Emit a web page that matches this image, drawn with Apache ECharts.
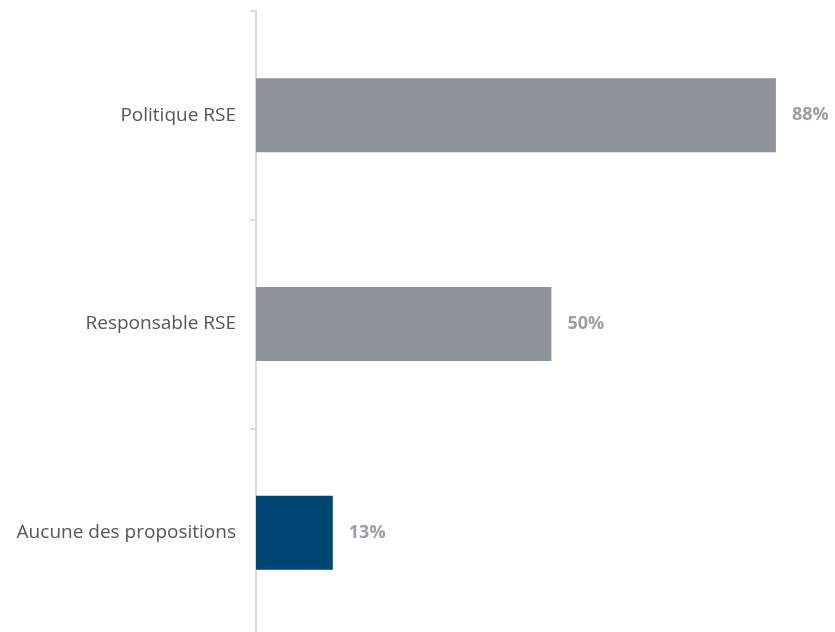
<!DOCTYPE html>
<html><head><meta charset="utf-8">
<script src="https://cdn.jsdelivr.net/npm/echarts@6/dist/echarts.min.js"></script>
<style>html,body{margin:0;padding:0;background:#fff;overflow:hidden}#c{width:835px;height:637px}</style>
</head><body><div id="c"></div>
<script>
var categories = ["Politique RSE", "Responsable RSE", "Aucune des propositions"];
var values = [88, 50, 13];
var barColors = ["#8e9299", "#8e9299", "#004673"];

var chart = echarts.init(document.getElementById('c'));
chart.setOption({
  animation: false,
  grid: {left: 256, top: 11, right: 0, bottom: 0, containLabel: false},
  xAxis: {type: 'value', min: 0, max: 98, show: false},
  yAxis: {
    type: 'category', data: categories, inverse: true,
    axisLine: {show: true, lineStyle: {color: '#dcdcdc', width: 2}},
    axisTick: {show: true, length: 6, lineStyle: {color: '#dcdcdc', width: 2}},
    axisLabel: {color: '#555', fontSize: 19, fontFamily: 'Open Sans', margin: 20},
    splitLine: {show: false}
  },
  series: [{
    type: 'bar',
    data: values.map(function(v, i){ return {value: v, itemStyle: {color: barColors[i]}}; }),
    barWidth: 74,
    label: {show: true, position: 'right', distance: 16, formatter: '{c}%',
      color: '#9a9ea5', fontSize: 18, fontWeight: 'bold', fontFamily: 'Open Sans'}
  }]
});
</script></body></html>
